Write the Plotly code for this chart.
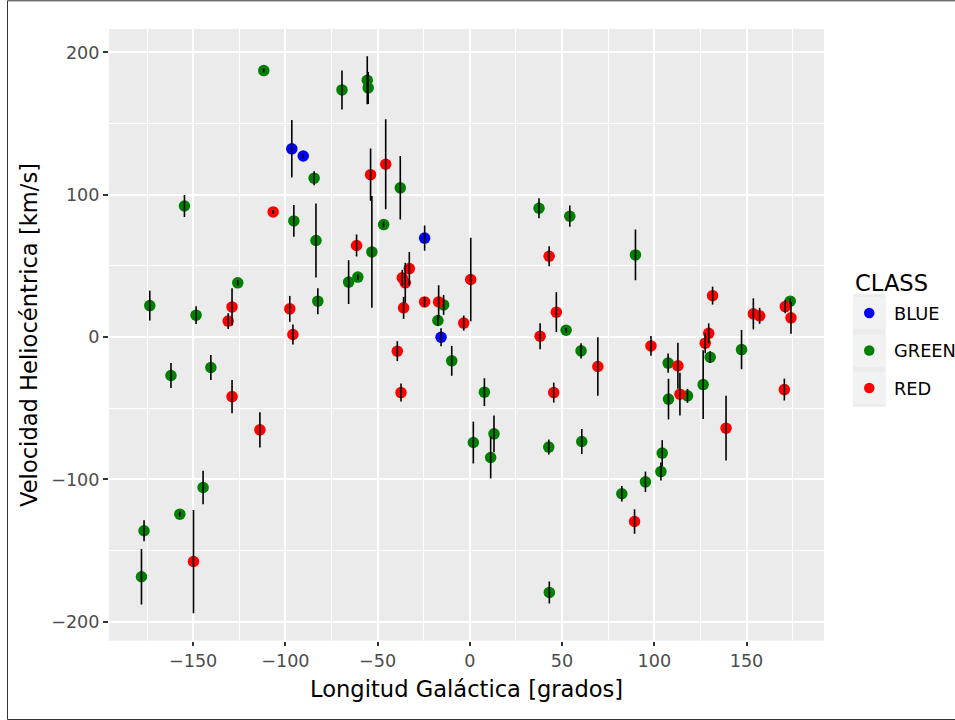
import plotly.graph_objects as go

# ---- data ----
blue_lon = [-96.5, -90.3, -24.5, -15.6]
blue_vel = [132.2, 127.2, 69.5, -0.1]
blue_err = [20.2, 2.0, 8.8, 6.3]

green_lon = [-111.7, -69.3, -84.4, -154.7, -95.4, -83.4, -125.8, -173.5, -148.4, -82.4,
             -55.6, -55.1, -37.7, -46.7, -53.1, -65.7, -60.7, -14.2, -17.3, 37.5,
             54.2, 52.2, 89.8, 173.7, -162.0, -140.4, -144.6, -157.2, -176.6, -178.0,
             -9.8, 7.9, 1.9, 13.1, 11.3, 42.8, 43.1, 60.3, 60.7, 107.5,
             107.7, 118.0, 126.5, 130.3, 147.3, 104.3, 103.6, 95.2, 82.4]
green_vel = [187.2, 173.6, 111.6, 92.1, 81.6, 67.8, 38.1, 22.1, 15.4, 25.2,
             180.4, 175.0, 104.8, 79.0, 59.8, 38.6, 42.1, 22.6, 11.6, 90.5,
             84.9, 4.8, 57.7, 25.2, -27.0, -21.4, -105.7, -124.4, -136.1, -168.4,
             -16.7, -38.7, -74.1, -68.0, -84.6, -77.3, -179.4, -9.7, -73.4, -18.3,
             -43.6, -41.3, -33.4, -14.1, -8.8, -81.5, -94.5, -101.7, -110.1]
green_err = [1.4, 13.7, 4.9, 7.7, 11.2, 26.0, 2.0, 10.5, 6.3, 9.1,
             16.9, 11.2, 22.3, 2.0, 39.3, 15.4, 2.0, 7.0, 3.5, 7.0,
             7.5, 2.0, 17.8, 2.0, 8.8, 8.8, 11.8, 2.0, 7.4, 19.5,
             10.5, 9.8, 14.7, 12.9, 14.7, 5.3, 7.7, 5.3, 8.8, 6.8,
             14.3, 4.9, 24.1, 4.2, 13.8, 9.1, 6.3, 7.2, 5.5]

red_lon = [-106.6, -128.9, -131.0, -97.6, -95.9, -53.8, -45.6, -61.4, -32.8, -36.6,
           -35.0, -35.9, -24.5, -16.9, -3.3, 0.5, 43.0, 46.9, 38.1, 131.6,
           153.7, 157.1, 171.0, 174.1, 129.5, 127.6, -128.9, -113.8, -149.8, -39.3,
           -37.3, 45.5, 69.4, 98.2, 112.8, 113.9, 138.9, 170.5, 89.3]
red_vel = [87.9, 21.2, 11.2, 19.8, 1.8, 114.1, 121.4, 64.3, 48.1, 41.6,
           38.1, 20.5, 24.7, 24.7, 9.8, 40.4, 56.8, 17.5, 0.6, 29.1,
           16.3, 14.9, 21.4, 13.5, 2.6, -4.3, -41.8, -65.2, -157.7, -9.9,
           -39.0, -39.0, -20.7, -6.2, -20.2, -40.1, -64.0, -36.9, -129.6]
red_err = [1.4, 13.0, 5.6, 9.1, 7.0, 18.3, 31.6, 7.7, 11.7, 5.6,
           14.0, 7.7, 3.5, 11.7, 5.3, 29.3, 7.0, 14.0, 9.1, 6.3,
           10.9, 5.6, 4.7, 11.2, 7.0, 7.0, 11.7, 12.3, 36.3, 7.0,
           6.3, 7.0, 20.6, 7.0, 16.2, 15.0, 22.8, 7.7, 8.6]

classes = ["BLUE", "GREEN", "RED"]
class_colors = {"BLUE": "#0000FF", "GREEN": "#008000", "RED": "#FF0000"}
series = {
    "BLUE": (blue_lon, blue_vel, blue_err),
    "GREEN": (green_lon, green_vel, green_err),
    "RED": (red_lon, red_vel, red_err),
}

x_ticks = [-150, -100, -50, 0, 50, 100, 150]
y_ticks = [-200, -100, 0, 100, 200]

W, H = 955, 720
FONT = "DejaVu Sans"


def px(x):
    return x / W


def py(y):
    return 1 - y / H


fig = go.Figure()

# points
for c in classes:
    lon, vel, err = series[c]
    fig.add_trace(go.Scatter(
        x=lon, y=vel, mode="markers", name=c, showlegend=False,
        marker=dict(color=class_colors[c], size=11.5, line=dict(width=0)),
    ))

# error bars drawn on top of points
for c in classes:
    lon, vel, err = series[c]
    fig.add_trace(go.Scatter(
        x=lon, y=vel, mode="markers", showlegend=False, hoverinfo="skip",
        marker=dict(size=1, opacity=0),
        error_y=dict(type="data", array=err, visible=True, color="black",
                     thickness=1.6, width=0),
    ))

# legend keys (manual, ggplot style)
fig.add_trace(go.Scatter(
    x=[0.5, 0.5, 0.5], y=[2, 1, 0], mode="markers", showlegend=False,
    hoverinfo="skip", xaxis="x2", yaxis="y2",
    marker=dict(color=[class_colors[c] for c in classes], size=10.5, line=dict(width=0)),
))

key_centers = [313.0, 350.5, 388.0]
shapes = []
for yc in key_centers:
    shapes.append(dict(type="rect", xref="paper", yref="paper",
                       x0=px(853), x1=px(885.5), y0=py(yc + 16.3), y1=py(yc - 16.3),
                       fillcolor="#F2F2F2", line=dict(width=0), layer="below"))
# figure frame
shapes.append(dict(type="rect", xref="paper", yref="paper",
                   x0=px(7.5), x1=px(970), y0=py(719.5), y1=py(0.8),
                   line=dict(color="#333333", width=1), fillcolor="rgba(0,0,0,0)",
                   layer="above"))

annotations = [
    dict(text="Longitud Galáctica [grados]", x=px(466.5), y=py(688.5), xref="paper",
         yref="paper", showarrow=False, xanchor="center", yanchor="middle",
         font=dict(family=FONT, size=22.6, color="black")),
    dict(text="Velocidad Heliocéntrica [km/s]", x=px(29), y=py(335), xref="paper",
         yref="paper", showarrow=False, xanchor="center", yanchor="middle",
         textangle=-90, font=dict(family=FONT, size=22.6, color="black")),
    dict(text="CLASS", x=px(853), y=py(282.5), xref="paper", yref="paper",
         showarrow=False, xanchor="left", yanchor="middle",
         font=dict(family=FONT, size=22.6, color="black")),
]
for c, yc in zip(classes, key_centers):
    annotations.append(dict(text=c, x=px(892), y=py(yc), xref="paper", yref="paper",
                            showarrow=False, xanchor="left", yanchor="middle",
                            font=dict(family=FONT, size=17.8, color="black")))

fig.update_layout(
    width=W, height=H,
    margin=dict(l=0, r=0, t=0, b=0),
    paper_bgcolor="white",
    plot_bgcolor="#EBEBEB",
    font=dict(family=FONT),
    shapes=shapes,
    annotations=annotations,
    xaxis=dict(
        domain=[px(109), px(824)], range=[-195.6, 192.0],
        tickmode="array", tickvals=x_ticks, ticktext=[f"{v}".replace("-", "\u2212") for v in x_ticks],
        ticks="outside", ticklen=4, tickwidth=1.5, tickcolor="#333333",
        tickfont=dict(family=FONT, size=17.6, color="#4D4D4D"),
        showgrid=True, gridcolor="white", gridwidth=1.9,
        minor=dict(tickvals=[-175, -125, -75, -25, 25, 75, 125, 175], showgrid=True,
                   gridcolor="white", gridwidth=0.95, ticks=""),
        zeroline=False, showline=False, anchor="y",
    ),
    yaxis=dict(
        domain=[py(640.7), py(29)], range=[-213.3, 216.4],
        tickmode="array", tickvals=y_ticks, ticktext=[f"{v}".replace("-", "\u2212") for v in y_ticks],
        ticks="outside", ticklen=5, tickwidth=1.5, tickcolor="#333333",
        tickfont=dict(family=FONT, size=17.6, color="#4D4D4D"),
        showgrid=True, gridcolor="white", gridwidth=1.9,
        minor=dict(tickvals=[-150, -50, 50, 150], showgrid=True,
                   gridcolor="white", gridwidth=0.95, ticks=""),
        zeroline=False, showline=False, anchor="x",
    ),
    xaxis2=dict(domain=[px(853), px(885.5)], range=[0, 1], visible=False,
                anchor="y2", fixedrange=True),
    yaxis2=dict(domain=[py(406.75), py(294.25)], range=[-0.5, 2.5], visible=False,
                anchor="x2", fixedrange=True),
)

fig.write_html(
    "out.html",
    config={"displayModeBar": False},
    post_script="document.body.style.margin='0';document.body.style.overflow='hidden';",
)
